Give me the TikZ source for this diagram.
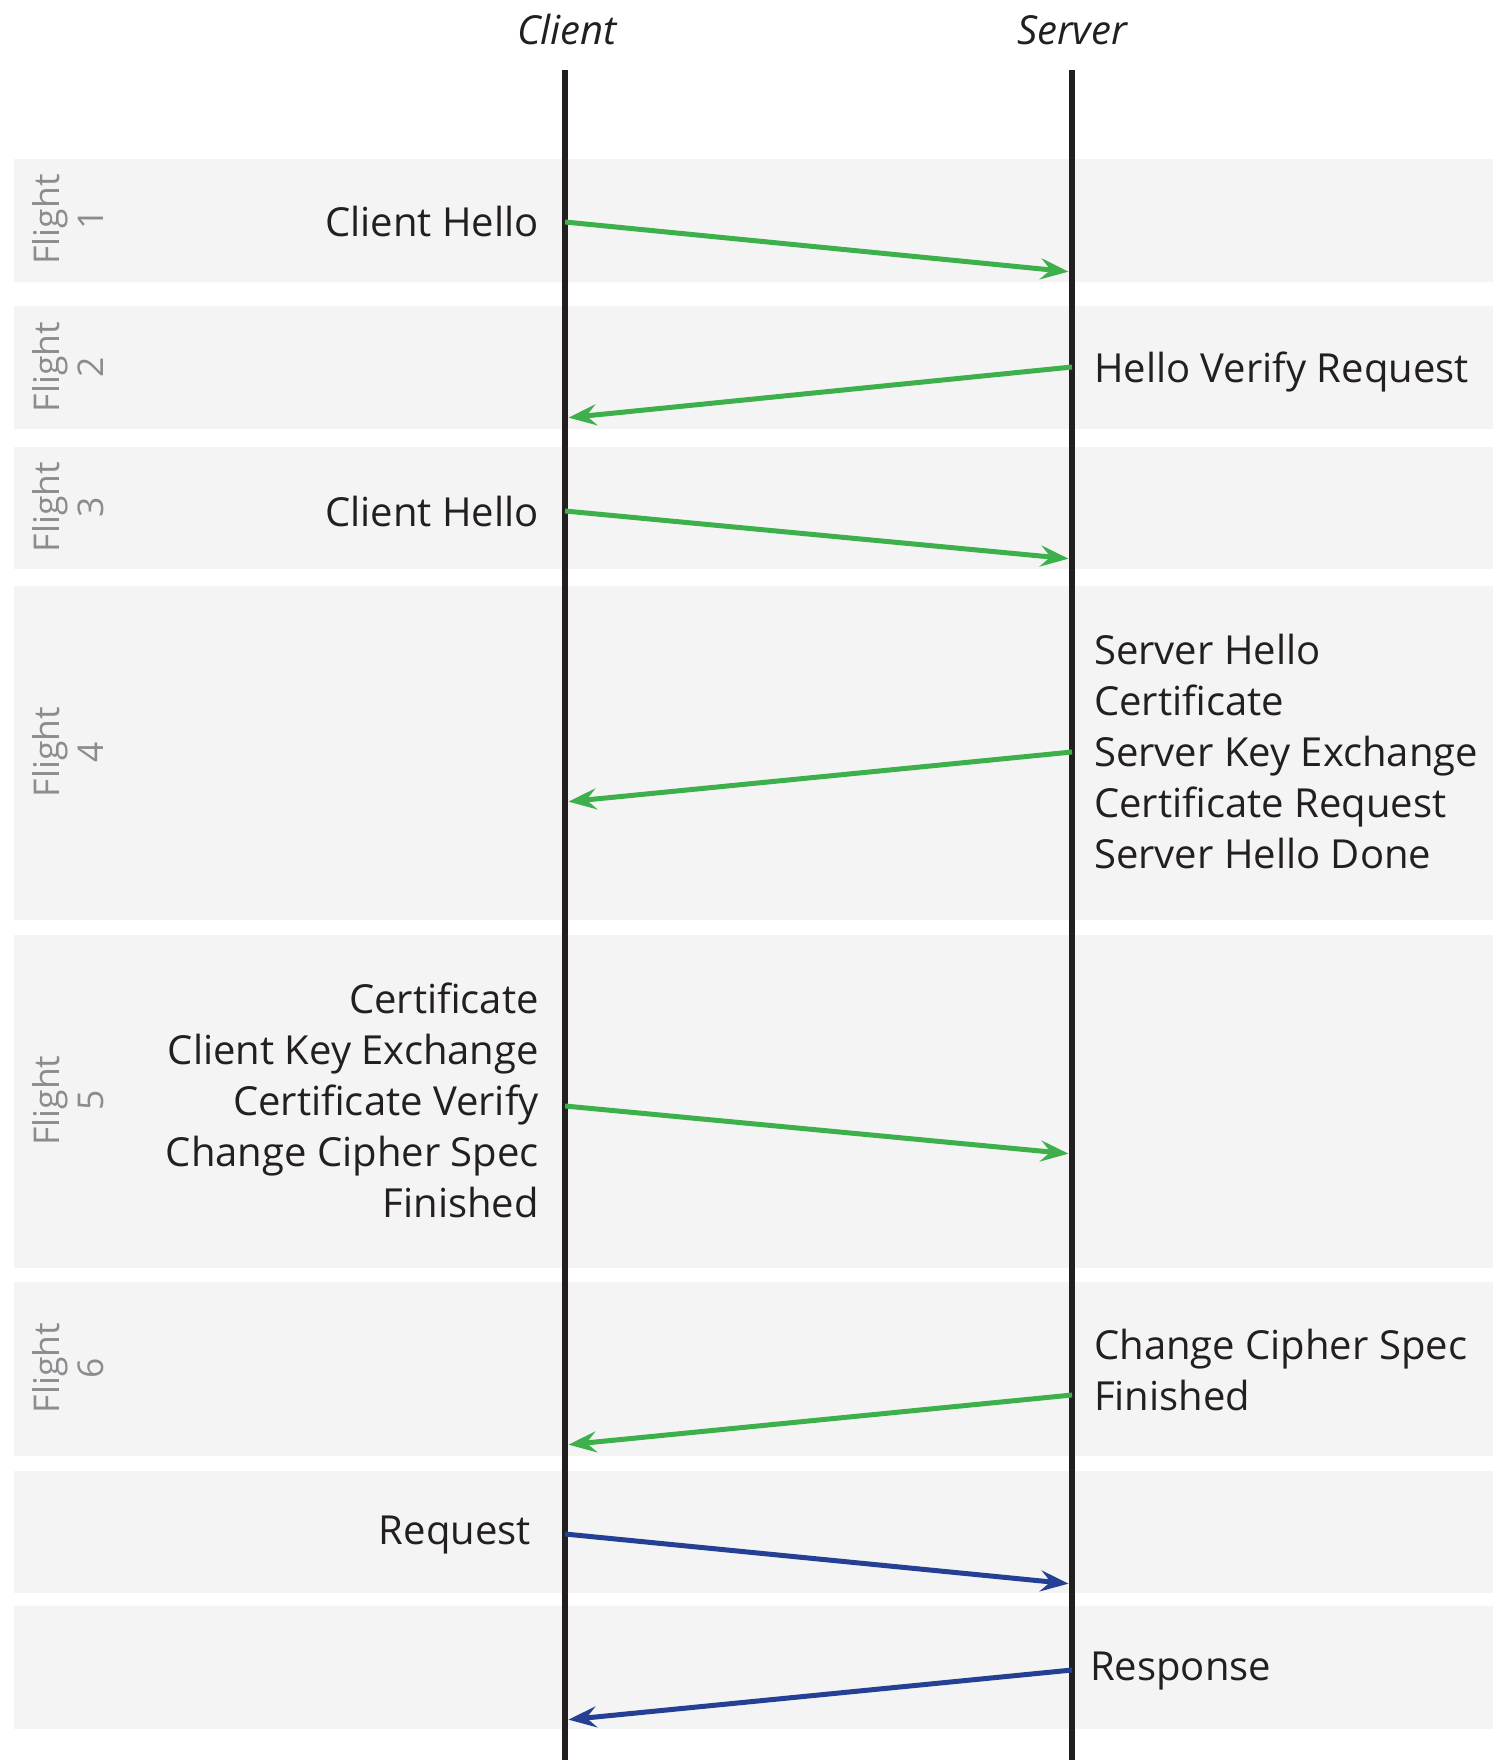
\documentclass[tikz,border=0pt]{standalone}
\usepackage{fontspec}
\setmainfont{Open Sans}
\usetikzlibrary{arrows.meta}
\definecolor{band}{HTML}{F4F4F4}
\definecolor{ink}{HTML}{231F20}
\definecolor{msggreen}{HTML}{3DB04B}
\definecolor{msgblue}{HTML}{243F93}
\definecolor{flightgray}{HTML}{8C8C90}
\begin{document}
\begin{tikzpicture}[x=1pt,y=-1pt,
  lifeline/.style={draw=ink, line width=5.5pt},
  msg/.style={line width=5pt, shorten >=3.5pt,
    -{Stealth[length=28pt,width=21pt,inset=10pt]}},
  hs/.style={msg, draw=msggreen},
  app/.style={msg, draw=msgblue},
  lbl/.style={font=\fontsize{40}{51}\selectfont, text=ink, inner sep=0pt},
  head/.style={font=\fontsize{40}{50}\selectfont\itshape, text=ink, inner sep=0pt},
  flightlbl/.style={font=\fontsize{35.5}{44}\selectfont, text=flightgray,
    rotate=90, align=center, inner sep=0pt}]
\useasboundingbox (0,0) rectangle (1493,1760);

% flight bands
\foreach \t/\b in {159/282, 306/429, 447/569, 586/920, 935/1268,
                   1282/1456, 1471/1593, 1606/1729}
  \fill[band] (13.5,\t) rectangle (1493,\b);

% flight numbers
\node[flightlbl] (f1) at (68,219.5) {Flight\\1};
\node[flightlbl] (f2) at (68,367) {Flight\\2};
\node[flightlbl] (f3) at (68,507) {Flight\\3};
\node[flightlbl] (f4) at (68,752) {Flight\\4};
\node[flightlbl] (f5) at (68,1100.5) {Flight\\5};
\node[flightlbl] (f6) at (68,1368) {Flight\\6};

% participants and lifelines
\node[head] (client) at (567,30) {Client};
\node[head] (server) at (1072,30) {Server};
\coordinate (ctop) at (565,70);
\coordinate (cbot) at (565,1760);
\coordinate (stop) at (1072,70);
\coordinate (sbot) at (1072,1760);
\draw[lifeline] (ctop) -- (cbot);
\draw[lifeline] (stop) -- (sbot);

% message end points on the lifelines
\coordinate (c1) at (565,222);  \coordinate (s1) at (1072,272);
\coordinate (s2) at (1072,367); \coordinate (c2) at (565,418);
\coordinate (c3) at (565,511);  \coordinate (s3) at (1072,559);
\coordinate (s4) at (1072,752); \coordinate (c4) at (565,802);
\coordinate (c5) at (565,1106); \coordinate (s5) at (1072,1154);
\coordinate (s6) at (1072,1395); \coordinate (c6) at (565,1445);
\coordinate (c7) at (565,1534); \coordinate (s7) at (1072,1584);
\coordinate (s8) at (1072,1670); \coordinate (c8) at (565,1720);

% handshake flights
\draw[hs] (c1) -- (s1);
\draw[hs] (s2) -- (c2);
\draw[hs] (c3) -- (s3);
\draw[hs] (s4) -- (c4);
\draw[hs] (c5) -- (s5);
\draw[hs] (s6) -- (c6);
% application data
\draw[app] (c7) -- (s7);
\draw[app] (s8) -- (c8);

% message labels
\node[lbl, anchor=east] (m1) at (539,222) {Client Hello};
\node[lbl, anchor=west] (m2) at (1094,372) {Hello Verify Request};
\node[lbl, anchor=east] (m3) at (539,511) {Client Hello};
\node[lbl, anchor=west, align=left] (m4) at (1094,751)
  {Server Hello\\Certificate\\Server Key Exchange\\Certificate Request\\Server Hello Done};
\node[lbl, anchor=east, align=right] (m5) at (539,1100)
  {Certificate\\Client Key Exchange\\Certificate Verify\\Change Cipher Spec\\Finished};
\node[lbl, anchor=west, align=left] (m6) at (1094,1370)
  {Change Cipher Spec\\Finished};
\node[lbl, anchor=east] (m7) at (531,1535) {Request};
\node[lbl, anchor=west] (m8) at (1090,1671) {Response};
\end{tikzpicture}
\end{document}
